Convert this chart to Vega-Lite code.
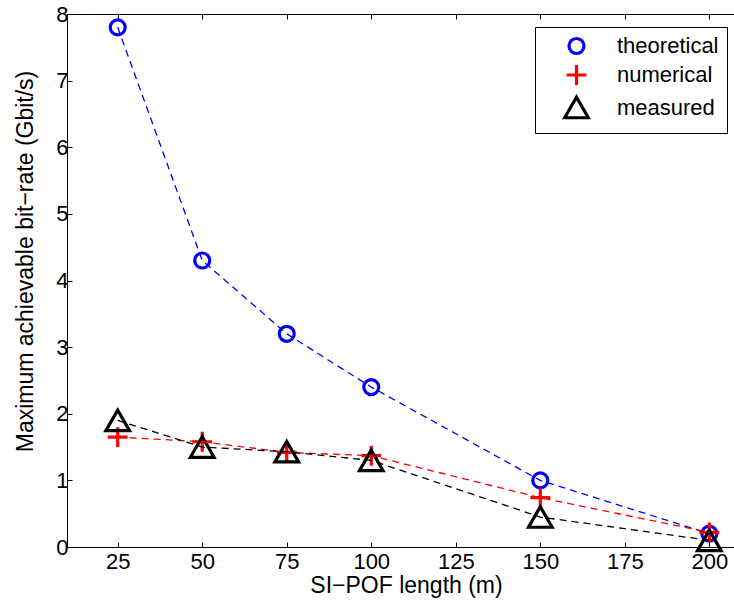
{
  "$schema": "https://vega.github.io/schema/vega-lite/v6.json",
  "width": 667,
  "height": 533,
  "autosize": "none",
  "padding": {"left": 67, "top": 14, "right": 0, "bottom": 64},
  "config": {
    "font": "Liberation Sans",
    "view": {"stroke": "black", "strokeWidth": 1},
    "axis": {
      "grid": false,
      "domainColor": "black",
      "domainWidth": 1,
      "tickColor": "black",
      "tickWidth": 1,
      "tickSize": -5,
      "labelFontSize": 22,
      "labelColor": "black",
      "titleFontSize": 23,
      "titleFontWeight": "normal",
      "titleColor": "black",
      "format": "d"
    },
    "legend": {
      "labelFontSize": 22,
      "labelColor": "black"
    }
  },
  "data": {
    "values": [
      {"length": 25, "rate": 7.8, "series": "theoretical"},
      {"length": 50, "rate": 4.3, "series": "theoretical"},
      {"length": 75, "rate": 3.2, "series": "theoretical"},
      {"length": 100, "rate": 2.4, "series": "theoretical"},
      {"length": 150, "rate": 1.0, "series": "theoretical"},
      {"length": 200, "rate": 0.2, "series": "theoretical"},
      {"length": 25, "rate": 1.65, "series": "numerical"},
      {"length": 50, "rate": 1.58, "series": "numerical"},
      {"length": 75, "rate": 1.42, "series": "numerical"},
      {"length": 100, "rate": 1.37, "series": "numerical"},
      {"length": 150, "rate": 0.74, "series": "numerical"},
      {"length": 200, "rate": 0.22, "series": "numerical"},
      {"length": 25, "rate": 1.9, "series": "measured"},
      {"length": 50, "rate": 1.5, "series": "measured"},
      {"length": 75, "rate": 1.43, "series": "measured"},
      {"length": 100, "rate": 1.3, "series": "measured"},
      {"length": 150, "rate": 0.45, "series": "measured"},
      {"length": 200, "rate": 0.1, "series": "measured"}
    ]
  },
  "resolve": {"axis": {"x": "independent"}},
  "layer": [
    {
      "mark": {"type": "point", "filled": false, "strokeWidth": 3.2, "opacity": 1},
      "encoding": {
        "x": {
          "field": "length", "type": "quantitative",
          "scale": {"domain": [10, 207.3], "nice": false, "zero": false},
          "axis": {"values": [25, 50, 75, 100, 125, 150, 175, 200], "title": "SI−POF length (m)", "labelFontSize": 22, "labelPadding": 9, "titleX": 339, "titleY": 45, "titleBaseline": "alphabetic", "titleAlign": "center"}
        },
        "y": {
          "field": "rate", "type": "quantitative",
          "scale": {"domain": [0, 8], "nice": false},
          "axis": {"values": [0, 1, 2, 3, 4, 5, 6, 7, 8], "title": "Maximum achievable bit−rate (Gbit/s)", "labelFontSize": 22, "labelPadding": 4, "titleX": -35, "titleY": 247, "titleBaseline": "alphabetic", "titleAlign": "center", "titleAngle": -90}
        },
        "color": {
          "field": "series", "type": "nominal",
          "scale": {"domain": ["theoretical", "numerical", "measured"], "range": ["#0000ff", "#ff0000", "#000000"]},
          "legend": {
            "title": null,
            "orient": "none",
            "legendX": 468,
            "legendY": 13,
            "strokeColor": "black",
            "fillColor": "white",
            "padding": 8,
            "symbolOffset": 20,
            "labelOffset": 27,
            "rowPadding": -2,
            "symbolStrokeWidth": 3.2,
            "symbolType": "circle"
          }
        },
        "shape": {
          "field": "series", "type": "nominal",
          "scale": {"domain": ["theoretical", "numerical", "measured"], "range": ["circle", "M -1 0 L 1 0 M 0 -1 L 0 1", "triangle-up"]}
        },
        "size": {
          "field": "series", "type": "nominal",
          "scale": {"domain": ["theoretical", "numerical", "measured"], "range": [225, 560, 600]}
        }
      }
    },
    {
      "mark": {"type": "line", "strokeDash": [7, 5], "strokeWidth": 1.3},
      "encoding": {
        "x": {
          "field": "length", "type": "quantitative",
          "axis": {"orient": "top", "values": [25, 50, 75, 100, 125, 150, 175, 200], "labels": false, "title": null, "domain": false}
        },
        "y": {"field": "rate", "type": "quantitative"},
        "color": {"field": "series", "type": "nominal"}
      }
    }
  ]
}
